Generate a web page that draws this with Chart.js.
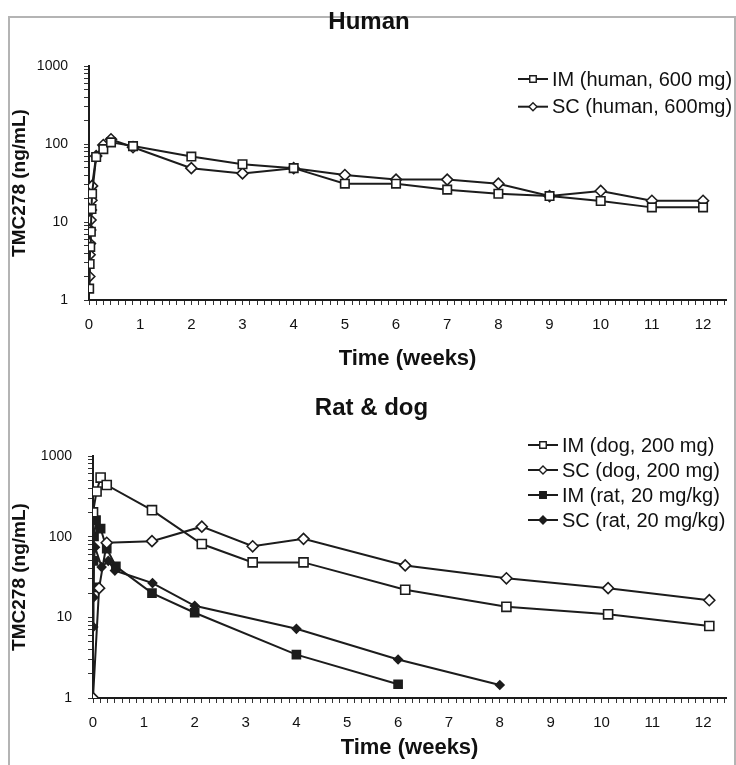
<!DOCTYPE html>
<html>
<head>
<meta charset="utf-8">
<script src="https://cdn.jsdelivr.net/npm/chart.js@4.4.0/dist/chart.umd.min.js"></script>
<style>
  html, body { margin: 0; padding: 0; background: #fff; }
  body { width: 736px; height: 765px; position: relative; overflow: hidden; }
  .frame { position: absolute; left: 8px; top: 16px; width: 724px; height: 760px;
           border: 2px solid #b4b4b4; border-bottom: none; }
  .box { position: absolute; left: 0; width: 736px; }
  #human-box { top: 0; height: 380px; }
  #ratdog-box { top: 380px; height: 385px; }
</style>
</head>
<body>
<div class="frame"></div>
<div class="box" id="human-box"><canvas id="human"></canvas></div>
<div class="box" id="ratdog-box"><canvas id="ratdog"></canvas></div>
<script>
// values (time in weeks, TMC278 in ng/mL)
const weekMax = 12.45;
const daysPerWeek = 7;
const yTickLabels = [1, 10, 100, 1000];

const humanImTime = [0.003, 0.012, 0.024, 0.036, 0.048, 0.06, 0.14, 0.28, 0.43, 0.86, 2, 3, 4, 5, 6, 7, 8, 9, 10, 11, 12];
const humanImConc = [1.4, 2.9, 4.8, 7.5, 14.7, 23, 68, 86, 105, 94, 69, 55, 49, 31, 31, 26, 23, 21.5, 18.6, 15.4, 15.4];
const humanScTime = [0.006, 0.012, 0.018, 0.024, 0.03, 0.036, 0.048, 0.06, 0.14, 0.28, 0.43, 0.86, 2, 3, 4, 5, 6, 7, 8, 9, 10, 11, 12];
const humanScConc = [2.0, 3.8, 5.3, 7.9, 10.6, 14.3, 19, 29, 70, 97, 115, 91, 49, 42, 49, 40, 35, 35, 31, 21.5, 25, 18.7, 18.7];

const dogImTime = [0, 0.07, 0.15, 0.27, 1.16, 2.14, 3.14, 4.14, 6.14, 8.13, 10.13, 12.12];
const dogImConc = [200, 363, 540, 437, 213, 81, 48, 48, 22, 13.5, 10.9, 7.8];
const dogScTime = [0, 0.12, 0.27, 1.16, 2.14, 3.14, 4.14, 6.14, 8.13, 10.13, 12.12];
const dogScConc = [1.0, 23, 84, 88, 133, 76, 94, 44, 30.5, 23, 16.3];
const ratImTime = [0.005, 0.01, 0.02, 0.06, 0.15, 0.27, 0.45, 1.16, 2.0, 4.0, 6.0];
const ratImConc = [23.5, 50, 101, 160, 126, 71, 43, 20, 11.4, 3.45, 1.48];
const ratScTime = [0.005, 0.01, 0.02, 0.04, 0.17, 0.3, 0.43, 1.17, 2.0, 4.0, 6.0, 8.0];
const ratScConc = [7.6, 17.6, 50, 74, 42, 50, 38, 26.6, 13.9, 7.2, 3.0, 1.45];

const INK = '#1c1c1c';
const FONT = "'Liberation Sans', Arial, Helvetica, sans-serif";

function points(times, conc) {
  return times.map((t, i) => ({x: t, y: conc[i]}));
}

function series(label, times, conc, style, filled, radius) {
  return {
    label: label,
    data: points(times, conc),
    borderColor: INK,
    borderWidth: 2,
    pointStyle: style,
    pointRadius: radius,
    pointBorderWidth: 1.6,
    pointBorderColor: INK,
    pointBackgroundColor: filled ? INK : '#fff',
    tension: 0
  };
}

function drawMarker(ctx, style, x, y, r) {
  ctx.beginPath();
  if (style == 'rect') {
    const s = r * Math.SQRT1_2;
    ctx.rect(x - s, y - s, 2 * s, 2 * s);
  } else {
    ctx.moveTo(x, y - r); ctx.lineTo(x + r, y); ctx.lineTo(x, y + r); ctx.lineTo(x - r, y);
    ctx.closePath();
  }
  ctx.fill();
  ctx.stroke();
}

// legend drawn as stacked rows inside the plot, like the original
const lineLegend = {
  id: 'lineLegend',
  afterDraw(chart, args, opts) {
    const ctx = chart.ctx;
    ctx.save();
    ctx.font = opts.font;
    ctx.textBaseline = 'middle';
    chart.data.datasets.forEach((ds, i) => {
      const y = opts.y + i * opts.gap;
      ctx.strokeStyle = INK;
      ctx.lineWidth = 2;
      ctx.beginPath(); ctx.moveTo(opts.x, y); ctx.lineTo(opts.x + opts.len, y); ctx.stroke();
      ctx.lineWidth = 1.4;
      ctx.fillStyle = ds.pointBackgroundColor;
      drawMarker(ctx, ds.pointStyle, opts.x + opts.len / 2, y, ds.pointStyle == 'rect' ? 4.6 : 4);
      ctx.fillStyle = '#111';
      ctx.fillText(ds.label, opts.x + opts.len + 4, y + 1);
    });
    ctx.restore();
  }
};

function makeOptions(cfg) {
  return {
    responsive: true,
    maintainAspectRatio: false,
    animation: false,
    devicePixelRatio: 1,
    layout: {padding: {left: 8, right: cfg.padRight, top: 0, bottom: 0}},
    plugins: {
      legend: {display: false},
      tooltip: {enabled: false},
      title: {
        display: true, text: cfg.title, color: '#111',
        font: {family: FONT, size: 24, weight: 'bold'},
        padding: {top: cfg.titleTop, bottom: cfg.titleBottom}
      },
      lineLegend: cfg.legend
    },
    scales: {
      x: {
        type: 'linear', min: 0, max: weekMax,
        afterFit(s) { s.height = cfg.xHeight; },
        afterBuildTicks(s) {
          const t = [];
          for (let i = 0; i / daysPerWeek <= weekMax; i++) t.push({value: i / daysPerWeek});
          s.ticks = t;
        },
        ticks: {
          autoSkip: false, maxRotation: 0, color: '#111', padding: 11,
          font: {family: FONT, size: 15},
          callback: (v, i) => i % daysPerWeek === 0 ? String(i / daysPerWeek) : ''
        },
        grid: {drawOnChartArea: false, drawTicks: true, tickLength: 5, tickColor: '#333', tickWidth: 1},
        border: {display: true, color: INK, width: 2},
        title: {
          display: true, text: 'Time (weeks)', color: '#111',
          font: {family: FONT, size: 22, weight: 'bold'},
          padding: {top: 0, bottom: cfg.xTitleBottom}
        }
      },
      y: {
        type: 'logarithmic', min: 1, max: 1000,
        afterFit(s) { s.width = cfg.yWidth; },
        afterBuildTicks(s) {
          const t = [];
          yTickLabels.slice(0, -1).forEach(d => { for (let k = 1; k < 10; k++) t.push({value: k * d}); });
          t.push({value: yTickLabels[yTickLabels.length - 1]});
          s.ticks = t;
        },
        ticks: {
          autoSkip: false, color: '#111', padding: 16,
          font: {family: FONT, size: 14},
          callback: v => yTickLabels.includes(v) ? String(v) : ''
        },
        grid: {drawOnChartArea: false, drawTicks: true, tickLength: 5, tickColor: '#333', tickWidth: 1},
        border: {display: true, color: INK, width: 2},
        title: {
          display: true, text: 'TMC278 (ng/mL)', color: '#111',
          font: {family: FONT, size: 19, weight: 'bold'},
          padding: {top: 0, bottom: 0}
        }
      }
    }
  };
}

new Chart(document.getElementById('human'), {
  type: 'line',
  data: {
    datasets: [
      series('IM (human, 600 mg)', humanImTime, humanImConc, 'rect', false, 6),
      series('SC (human, 600mg)', humanScTime, humanScConc, 'rectRot', false, 5.5)
    ]
  },
  options: makeOptions({
    title: 'Human', titleTop: 8, titleBottom: 29.2, padRight: 6,
    xHeight: 80, xTitleBottom: 7.8, yWidth: 81,
    legend: {x: 518, y: 79, gap: 27.7, len: 30, font: '20px ' + FONT}
  }),
  plugins: [lineLegend]
});

new Chart(document.getElementById('ratdog'), {
  type: 'line',
  data: {
    datasets: [
      series('IM (dog, 200 mg)', dogImTime, dogImConc, 'rect', false, 6.4),
      series('SC (dog, 200 mg)', dogScTime, dogScConc, 'rectRot', false, 5.5),
      series('IM (rat, 20 mg/kg)', ratImTime, ratImConc, 'rect', true, 5.7),
      series('SC (rat, 20 mg/kg)', ratScTime, ratScConc, 'rectRot', true, 4.2)
    ]
  },
  options: makeOptions({
    title: 'Rat & dog', titleTop: 14, titleBottom: 33.2, padRight: 1,
    xHeight: 67, xTitleBottom: 3.8, yWidth: 85,
    legend: {x: 528, y: 65, gap: 25, len: 30, font: '20px ' + FONT}
  }),
  plugins: [lineLegend]
});
</script>
</body>
</html>
